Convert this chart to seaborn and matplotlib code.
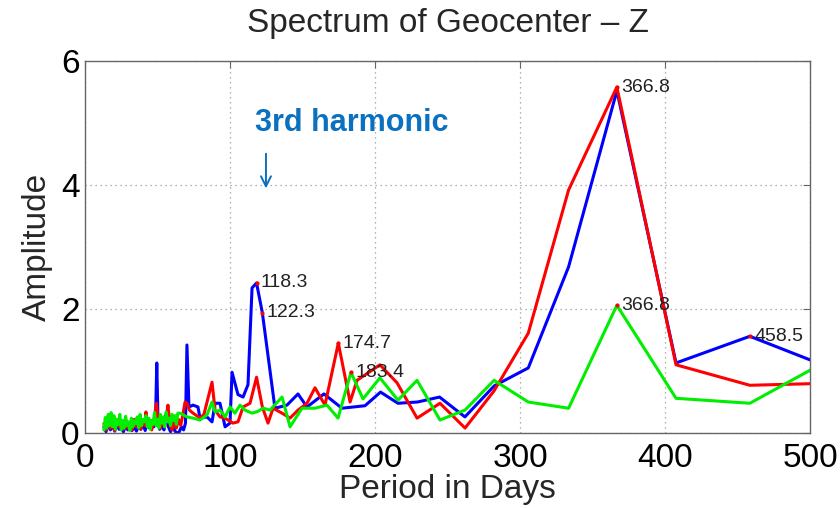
import matplotlib
matplotlib.use("Agg")
import matplotlib.pyplot as plt
import seaborn as sns

# spectrum values (period in days, amplitude)
blue_period = [13, 14.5, 16, 17.5, 19, 20.5, 22, 23.5, 25, 26.5, 28, 29.5, 31, 32.5, 34, 35.5,
               37, 38.5, 40, 41.5, 43, 44.5, 46, 47.5, 48.7, 49.5, 50.3, 51.5, 53, 54.5, 55.5,
               56.5, 57.5, 59, 60.5, 62, 63.5, 65, 66.5, 68, 69.3, 70.3, 71.7, 74.5, 77.9, 79.3,
               84.1, 87.6, 89.7, 93.1, 96.6, 100, 101.4, 105.5, 109, 112.4, 115.2, 118.3, 122.3,
               131, 139.3, 146.9, 153.1, 164.8, 177.2, 193.1, 203.8, 215.8, 229.3, 244.5, 262,
               282.2, 305.7, 333.5, 366.8, 407.6, 458.5, 524]
blue_amp = [0.10, 0.02, 0.15, 0.05, 0.12, 0.03, 0.14, 0.06, 0.10, 0.02, 0.12, 0.05, 0.16, 0.04,
            0.10, 0.03, 0.12, 0.06, 0.15, 0.04, 0.18, 0.08, 0.20, 0.10, 0.30, 1.13, 0.25, 0.06,
            0.12, 0.05, 0.28, 0.32, 0.10, 0.02, 0.15, 0.03, 0.00, 0.02, 0.10, 0.05, 0.16, 1.42,
            0.42, 0.45, 0.42, 0.24, 0.26, 0.18, 0.48, 0.48, 0.10, 0.16, 0.98, 0.62, 0.58, 0.78,
            2.34, 2.42, 1.94, 0.40, 0.45, 0.63, 0.42, 0.63, 0.40, 0.44, 0.66, 0.48, 0.50, 0.58,
            0.26, 0.76, 1.05, 2.68, 5.52, 1.13, 1.56, 0.96]

red_period = [13, 14.5, 16, 17.5, 19, 20.5, 22, 23.5, 25, 26.5, 28, 29.5, 31, 32.5, 34, 35.5,
              37, 38.5, 40, 41.2, 42, 43, 44.5, 46, 47.5, 49.3, 50.5, 52, 53.5, 55, 56.3, 57.2,
              58.5, 60, 61.5, 63, 64.5, 66, 67.5, 69, 70.3, 72, 74.5, 77, 79.3, 82, 87.6, 89.7,
              93.1, 96.6, 102, 105.5, 109, 113.8, 118.3, 122.3, 126.2, 129.7, 135.9, 141.4,
              146.9, 153.1, 158.6, 165.5, 174.7, 182.8, 187.6, 203.4, 215.2, 229, 244.8, 262.1,
              282.1, 305.7, 333.5, 366.8, 407.6, 458.5, 524]
red_amp = [0.15, 0.05, 0.20, 0.08, 0.18, 0.04, 0.22, 0.10, 0.15, 0.06, 0.20, 0.08, 0.16, 0.05,
           0.22, 0.10, 0.18, 0.06, 0.20, 0.12, 0.34, 0.10, 0.18, 0.05, 0.20, 0.48, 0.15, 0.08,
           0.20, 0.10, 0.30, 0.45, 0.15, 0.05, 0.18, 0.08, 0.22, 0.12, 0.30, 0.50, 0.48, 0.37,
           0.32, 0.28, 0.24, 0.30, 0.82, 0.37, 0.26, 0.24, 0.16, 0.18, 0.42, 0.48, 0.90, 0.42,
           0.16, 0.40, 0.32, 0.24, 0.37, 0.48, 0.73, 0.45, 1.45, 0.50, 0.85, 1.10, 0.81, 0.24,
           0.48, 0.08, 0.68, 1.61, 3.92, 5.58, 1.10, 0.77, 0.81]

green_period = [13, 14, 15, 16, 17, 18, 19, 20, 21, 22, 23, 24, 25, 26, 27, 28, 29, 30, 31, 32,
                33, 34, 35, 36, 37, 38, 39, 40, 41, 42, 43, 44, 45, 46, 47, 48, 49, 50, 51, 52,
                53, 54, 55, 56, 57, 58, 59, 60, 61, 62, 63, 64, 65.5, 70.3, 74.5, 79.3, 84.1,
                87.6, 89.7, 93.1, 96.6, 100, 103.4, 106.9, 110.3, 115.2, 119.3, 122.8, 127.6,
                135.9, 141.4, 149.7, 158.6, 166.9, 174.5, 183.4, 191.7, 203.4, 215.8, 229,
                244.8, 262.1, 282.1, 305.7, 333.5, 366.8, 407.6, 458.5, 524]
green_amp = [0.05, 0.25, 0.08, 0.30, 0.12, 0.33, 0.10, 0.28, 0.06, 0.22, 0.14, 0.30, 0.05, 0.20,
             0.08, 0.27, 0.12, 0.18, 0.04, 0.24, 0.10, 0.20, 0.15, 0.26, 0.08, 0.30, 0.12, 0.22,
             0.18, 0.28, 0.10, 0.24, 0.06, 0.20, 0.14, 0.33, 0.12, 0.22, 0.08, 0.30, 0.16, 0.26,
             0.10, 0.34, 0.18, 0.24, 0.12, 0.30, 0.20, 0.28, 0.14, 0.32, 0.32, 0.26, 0.24, 0.21,
             0.29, 0.50, 0.34, 0.37, 0.26, 0.42, 0.32, 0.45, 0.37, 0.32, 0.35, 0.40, 0.37, 0.58,
             0.10, 0.40, 0.40, 0.45, 0.24, 0.98, 0.55, 0.89, 0.53, 0.85, 0.21, 0.37, 0.85, 0.50,
             0.40, 2.06, 0.56, 0.48, 1.32]

# peak labels: (period, amplitude, text)
label_period = [118.3, 122.3, 174.7, 183.4, 366.8, 366.8, 458.5]
label_amp = [2.42, 1.94, 1.45, 0.98, 5.58, 2.06, 1.56]
label_text = ["118.3", "122.3", "174.7", "183.4", "366.8", "366.8", "458.5"]

sns.set_style("white")
plt.rcParams["font.family"] = ["Liberation Sans", "DejaVu Sans"]

fig, ax = plt.subplots(figsize=(8.4, 5.08), dpi=100)
fig.subplots_adjust(left=0.1012, right=0.9643, bottom=0.1476, top=0.8799)

for per, amp, col in [(blue_period, blue_amp, "#0000ff"),
                      (red_period, red_amp, "#ff0000"),
                      (green_period, green_amp, "#00ee00")]:
    sns.lineplot(x=per, y=amp, color=col, linewidth=2.2, sort=False,
                 estimator=None, ax=ax)

ax.plot(label_period, label_amp, "o", color="#ff0000", markersize=2.0, zorder=5)
for p, a, t in zip(label_period, label_amp, label_text):
    ax.text(p + 3, a, t, fontsize=14, ha="left", va="center", color="#222222")

ax.text(117, 5.0, "3rd harmonic", fontsize=22, fontweight="bold", color="#0a70c0",
        ha="left", va="center")
ax.annotate("", xy=(124.8, 3.9), xytext=(124.8, 4.55),
            arrowprops=dict(arrowstyle="->", color="#0a70c0", lw=1.4,
                            mutation_scale=18))

ax.set_xlim(0, 500)
ax.set_ylim(0, 6)
ax.set_xticks([0, 100, 200, 300, 400, 500])
ax.set_yticks([0, 2, 4, 6])
ax.grid(True, color="#999999", linestyle=(0, (1, 3)), linewidth=0.9)
for s in ax.spines.values():
    s.set_color("#666666")
    s.set_linewidth(1.0)
ax.tick_params(direction="in", top=True, right=True, length=5, color="#666666",
               labelsize=24, labelcolor="black")
ax.tick_params(axis="x", pad=7)
ax.tick_params(axis="y", pad=4)

ax.set_xlabel("Period in Days", fontsize=24, labelpad=0)
ax.set_ylabel("Amplitude", fontsize=24, labelpad=6)
ax.set_title("Spectrum of Geocenter \u2013 Z", fontsize=24, pad=21)

fig.savefig("out.png", dpi=100)
